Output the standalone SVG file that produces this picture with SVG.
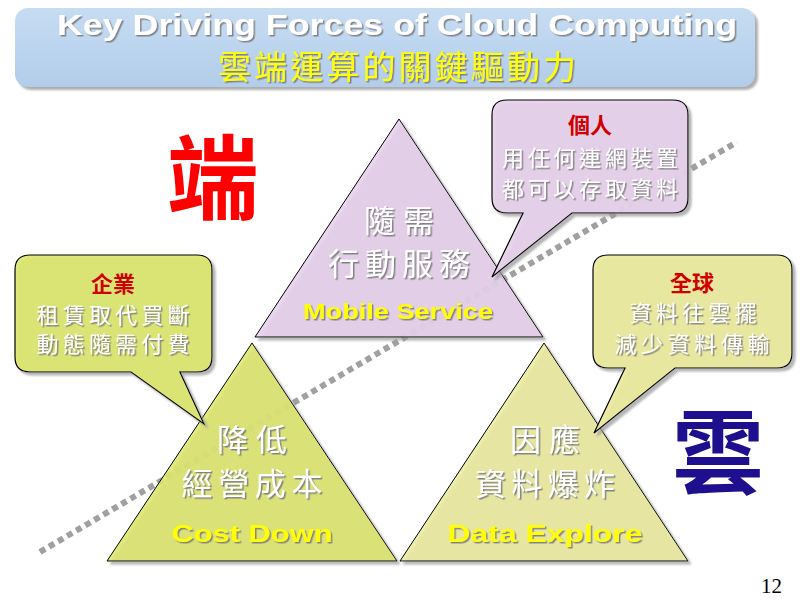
<svg xmlns="http://www.w3.org/2000/svg" width="800" height="600" viewBox="0 0 800 600">
<defs>
<linearGradient id="gTitle" x1="0" y1="0" x2="0" y2="1">
<stop offset="0" stop-color="#c6dcf2"/><stop offset="1" stop-color="#b2cdea"/>
</linearGradient>
<filter id="ts" x="-10%" y="-20%" width="130%" height="150%">
<feDropShadow dx="1.5" dy="1.5" stdDeviation="0.4" flood-color="#7a7a7a" flood-opacity="0.9"/>
</filter>
<filter id="sh" x="-10%" y="-10%" width="130%" height="130%">
<feDropShadow dx="3" dy="3" stdDeviation="1" flood-color="#9a9a9a" flood-opacity="0.8"/>
</filter>
</defs>
<style>
.tri{stroke:#000;stroke-width:1;filter:url(#sh)}
.call{stroke:#000;stroke-width:1.2;filter:url(#sh)}
.cjk{font-family:"Noto Sans CJK TC","Noto Sans CJK SC",sans-serif;text-anchor:middle}
.wt{fill:#fff;filter:url(#ts)}
.rd{fill:#d00000;font-weight:bold}
.en{font-family:"Liberation Sans",Arial,sans-serif;font-weight:bold;text-anchor:middle;fill:#ffff00;filter:url(#ts)}
</style>
<rect width="800" height="600" fill="#fff"/>

<g id="title">
<rect x="15" y="8" width="740" height="79" rx="13" fill="url(#gTitle)" filter="url(#sh)"/>
<text x="397" y="35" font-family="'Liberation Sans',Arial,sans-serif" font-weight="bold" font-size="30" fill="#fff" filter="url(#ts)" text-anchor="middle" textLength="680" lengthAdjust="spacingAndGlyphs">Key Driving Forces of Cloud Computing</text>
<text x="397" y="79" class="cjk" font-size="33" fill="#ffff00" filter="url(#ts)" textLength="358" lengthAdjust="spacing">雲端運算的關鍵驅動力</text>
</g>

<g id="divider">
<line x1="40" y1="552" x2="737" y2="142" stroke="#a0a0a0" stroke-width="6" stroke-dasharray="6 4.5"/>
</g>

<g id="node-mobile">
<polygon class="tri" points="399,119 255,337 543,337" fill="#e8d0ec" fill-opacity="0.86"/>
<text x="399" y="232" class="cjk wt" font-size="31" textLength="70" lengthAdjust="spacing">隨需</text>
<text x="399" y="275" class="cjk wt" font-size="31" textLength="142" lengthAdjust="spacing">行動服務</text>
<text x="398" y="319" class="en" font-size="22" textLength="190" lengthAdjust="spacingAndGlyphs">Mobile Service</text>
</g>

<g id="node-cost">
<polygon class="tri" points="252,343 107,561 397,561" fill="#dde66a" fill-opacity="0.86"/>
<text x="252" y="451" class="cjk wt" font-size="31" textLength="70" lengthAdjust="spacing">降低</text>
<text x="252" y="495" class="cjk wt" font-size="31" textLength="141" lengthAdjust="spacing">經營成本</text>
<text x="252" y="542" class="en" font-size="23" textLength="161" lengthAdjust="spacingAndGlyphs">Cost Down</text>
</g>

<g id="node-data">
<polygon class="tri" points="544,343 400,561 688,561" fill="#ebeb9e" fill-opacity="0.86"/>
<text x="545" y="451" class="cjk wt" font-size="31" textLength="70" lengthAdjust="spacing">因應</text>
<text x="545" y="495" class="cjk wt" font-size="31" textLength="140" lengthAdjust="spacing">資料爆炸</text>
<text x="545" y="542" class="en" font-size="23" textLength="195" lengthAdjust="spacingAndGlyphs">Data Explore</text>
</g>

<g id="callout-enterprise">
<path class="call" d="M30,255 H197 Q212,255 212,270 V357 Q212,372 197,372 H180 L204,424 L131,372 H30 Q15,372 15,357 V270 Q15,255 30,255 Z" fill="#dde86c" fill-opacity="0.9"/>
<text x="113" y="292" class="cjk rd" font-size="22">企業</text>
<text x="113" y="323" class="cjk wt" font-size="22" textLength="153" lengthAdjust="spacing">租賃取代買斷</text>
<text x="113" y="352" class="cjk wt" font-size="22" textLength="153" lengthAdjust="spacing">動態隨需付費</text>
</g>

<g id="callout-personal">
<path class="call" d="M507,100 H673 Q688,100 688,115 V198 Q688,213 673,213 H572 L492,277 L523,213 H507 Q492,213 492,198 V115 Q492,100 507,100 Z" fill="#e8d0ec" fill-opacity="0.9"/>
<text x="590" y="133" class="cjk rd" font-size="22">個人</text>
<text x="590" y="166" class="cjk wt" font-size="22" textLength="176" lengthAdjust="spacing">用任何連網裝置</text>
<text x="590" y="197" class="cjk wt" font-size="22" textLength="176" lengthAdjust="spacing">都可以存取資料</text>
</g>

<g id="callout-global">
<path class="call" d="M608,255 H777 Q792,255 792,270 V353 Q792,368 777,368 H675 L594,433 L625,368 H608 Q593,368 593,353 V270 Q593,255 608,255 Z" fill="#ebeb9c" fill-opacity="0.9"/>
<text x="692" y="291" class="cjk rd" font-size="22">全球</text>
<text x="693" y="321" class="cjk wt" font-size="22" textLength="127" lengthAdjust="spacing">資料往雲擺</text>
<text x="692" y="352" class="cjk wt" font-size="22" textLength="155" lengthAdjust="spacing">減少資料傳輸</text>
</g>

<g id="label-duan">
<text x="213" y="212" class="cjk" font-size="92" font-weight="bold" fill="#ff0000">端</text>
</g>
<g id="label-yun">
<text x="718" y="487" class="cjk" font-size="92" font-weight="bold" fill="#1e0f8e">雲</text>
</g>
<g id="page-number">
<text x="782" y="593" font-family="'Liberation Serif','Times New Roman',serif" font-size="21" fill="#000" text-anchor="end">12</text>
</g>
</svg>
